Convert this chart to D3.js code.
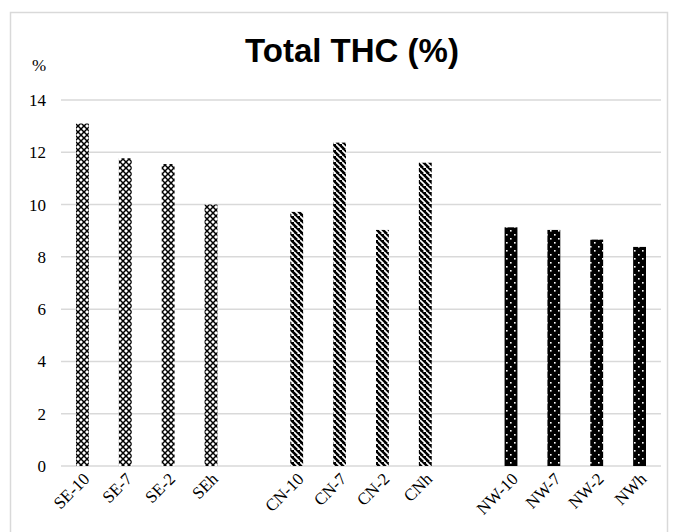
<!DOCTYPE html>
<html>
<head>
<meta charset="utf-8">
<script src="https://cdn.jsdelivr.net/npm/d3@7"></script>
<style>
  html, body { margin: 0; padding: 0; background: #fff; }
  svg { display: block; }
</style>
</head>
<body>
<svg id="chart" width="677" height="532"></svg>
<script>
// ---- data ----
const categories = ["SE-10", "SE-7", "SE-2", "SEh", "", "CN-10", "CN-7", "CN-2", "CNh", "", "NW-10", "NW-7", "NW-2", "NWh"];
const values = [13.1, 11.77, 11.55, 10.0, null, 9.72, 12.37, 9.03, 11.6, null, 9.13, 9.03, 8.66, 8.38];
const groups = ["SE", "SE", "SE", "SE", null, "CN", "CN", "CN", "CN", null, "NW", "NW", "NW", "NW"];
const yTicks = [0, 2, 4, 6, 8, 10, 12, 14];
const title = "Total THC (%)";
const yUnit = "%";

// ---- layout ----
const svg = d3.select("#chart");
const serif = "'Liberation Serif', 'Times New Roman', serif";

// outer border
svg.append("rect").attr("x", 10.5).attr("y", 12.5).attr("width", 657).attr("height", 530)
  .attr("fill", "#fff").attr("stroke", "#d9d9d9").attr("stroke-width", 1.5);

// patterns
const defs = svg.append("defs");
const pSE = defs.append("pattern").attr("id", "pSE").attr("patternUnits", "userSpaceOnUse")
  .attr("width", 6).attr("height", 6);
pSE.append("rect").attr("width", 6).attr("height", 6).attr("fill", "#fff");
pSE.append("path").attr("d", "M0,0 L6,6 M6,0 L0,6").attr("stroke", "#000").attr("stroke-width", 1.5).attr("fill", "none");

const pCN = defs.append("pattern").attr("id", "pCN").attr("patternUnits", "userSpaceOnUse")
  .attr("width", 6).attr("height", 6);
pCN.append("rect").attr("width", 6).attr("height", 6).attr("fill", "#fff");
pCN.append("path").attr("d", "M-3,0 L3,6 M0,-3 L9,6 M3,-3 L9,3 M-3,3 L0,6")
  .attr("stroke", "#000").attr("stroke-width", 2.6).attr("fill", "none");

const pNW = defs.append("pattern").attr("id", "pNW").attr("patternUnits", "userSpaceOnUse")
  .attr("width", 8).attr("height", 8);
pNW.append("rect").attr("width", 8).attr("height", 8).attr("fill", "#000");
pNW.append("rect").attr("x", 2).attr("y", 2).attr("width", 1.6).attr("height", 1.6).attr("fill", "#fff");
pNW.append("rect").attr("x", 6).attr("y", 6).attr("width", 1.6).attr("height", 1.6).attr("fill", "#fff");

const fills = { SE: "url(#pSE)", CN: "url(#pCN)", NW: "url(#pNW)" };

// scales
const x = d3.scaleBand().domain(d3.range(categories.length)).range([61, 661])
  .paddingInner(0.7).paddingOuter(0.35);
const y = d3.scaleLinear().domain([0, 14]).range([466, 100]);

// gridlines
svg.append("g").selectAll("line").data(yTicks).join("line")
  .attr("x1", 61).attr("x2", 661)
  .attr("y1", d => y(d)).attr("y2", d => y(d))
  .attr("stroke", "#d9d9d9").attr("stroke-width", 1.5);

// y axis labels
const yAxis = d3.axisLeft(y).tickValues(yTicks).tickSize(0).tickPadding(0);
const gy = svg.append("g").attr("transform", "translate(46,0)").call(yAxis)
  .attr("font-family", serif).attr("font-size", 17);
gy.select(".domain").remove();
gy.selectAll("text").attr("fill", "#000");

// bars
const data = values.map((v, i) => ({ i, v, g: groups[i] })).filter(d => d.v != null);
svg.append("g").selectAll("rect").data(data).join("rect")
  .attr("x", d => x(d.i)).attr("width", x.bandwidth())
  .attr("y", d => y(d.v)).attr("height", d => y(0) - y(d.v))
  .attr("fill", d => fills[d.g]);

// x axis labels
const xAxis = d3.axisBottom(x).tickSize(0).tickPadding(0).tickFormat(i => categories[i]);
const gx = svg.append("g").attr("transform", "translate(0,466)").call(xAxis)
  .attr("font-family", serif).attr("font-size", 17);
gx.select(".domain").remove();
gx.selectAll("text")
  .attr("fill", "#000")
  .attr("text-anchor", "end")
  .attr("dy", null)
  .attr("transform", "translate(8,14) rotate(-45)");

// title
svg.append("text").attr("x", 352).attr("y", 62).attr("text-anchor", "middle")
  .attr("font-family", "'Liberation Sans', Arial, sans-serif").attr("font-weight", "bold")
  .attr("font-size", 33).attr("fill", "#000").text(title);

// unit
svg.append("text").attr("x", 39).attr("y", 71).attr("text-anchor", "middle")
  .attr("font-family", serif)
  .attr("font-size", 17).attr("fill", "#000").text(yUnit);
</script>
</body>
</html>
